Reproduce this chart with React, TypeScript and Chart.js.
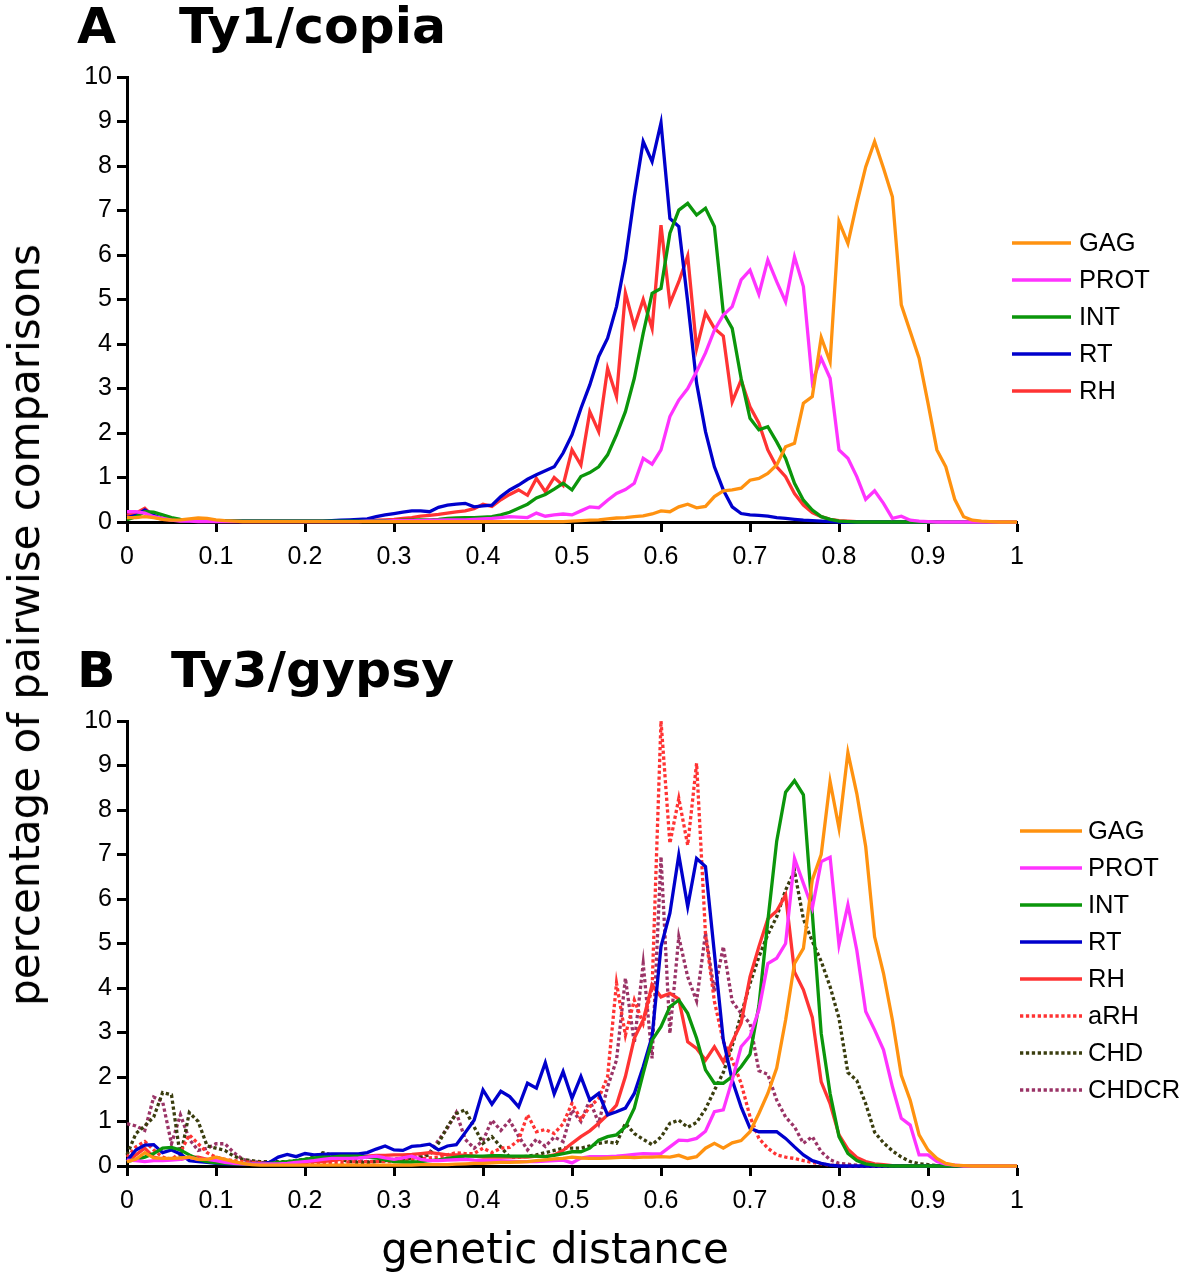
import React, { useEffect, useRef } from "react";
import { Chart, registerables } from "chart.js";

Chart.register(...registerables);

// genetic distance bins (x categories)
const DISTANCE = [
  0, 0.01, 0.02, 0.03, 0.04, 0.05, 0.06, 0.07, 0.08, 0.09,
  0.1, 0.11, 0.12, 0.13, 0.14, 0.15, 0.16, 0.17, 0.18, 0.19,
  0.2, 0.21, 0.22, 0.23, 0.24, 0.25, 0.26, 0.27, 0.28, 0.29,
  0.3, 0.31, 0.32, 0.33, 0.34, 0.35, 0.36, 0.37, 0.38, 0.39,
  0.4, 0.41, 0.42, 0.43, 0.44, 0.45, 0.46, 0.47, 0.48, 0.49,
  0.5, 0.51, 0.52, 0.53, 0.54, 0.55, 0.56, 0.57, 0.58, 0.59,
  0.6, 0.61, 0.62, 0.63, 0.64, 0.65, 0.66, 0.67, 0.68, 0.69,
  0.7, 0.71, 0.72, 0.73, 0.74, 0.75, 0.76, 0.77, 0.78, 0.79,
  0.8, 0.81, 0.82, 0.83, 0.84, 0.85, 0.86, 0.87, 0.88, 0.89,
  0.9, 0.91, 0.92, 0.93, 0.94, 0.95, 0.96, 0.97, 0.98, 0.99,
  1,
];

const X_TICKS = [0, 0.1, 0.2, 0.3, 0.4, 0.5, 0.6, 0.7, 0.8, 0.9, 1];
const X_TICK_LABELS = ["0", "0.1", "0.2", "0.3", "0.4", "0.5", "0.6", "0.7", "0.8", "0.9", "1"];
const Y_TICKS = [0, 1, 2, 3, 4, 5, 6, 7, 8, 9, 10];

// ---------- Panel A: Ty1/copia ----------
const A_GAG = [
  0.10, 0.10, 0.12, 0.10, 0.06, 0.04, 0.05, 0.07, 0.09, 0.08,
  0.05, 0.03, 0.02, 0.01, 0.01, 0.01, 0.01, 0.01, 0.01, 0.01,
  0.01, 0.01, 0.01, 0.01, 0.01, 0.01, 0.01, 0.01, 0.01, 0.01,
  0.01, 0.01, 0.01, 0.01, 0.01, 0.01, 0.01, 0.01, 0.01, 0.01,
  0.01, 0.01, 0.01, 0.01, 0.01, 0.01, 0.01, 0.01, 0.01, 0.01,
  0.02, 0.03, 0.04, 0.05, 0.07, 0.09, 0.10, 0.12, 0.14, 0.18,
  0.25, 0.23, 0.34, 0.40, 0.32, 0.35, 0.57, 0.70, 0.72, 0.76,
  0.94, 0.98, 1.09, 1.28, 1.69, 1.77, 2.67, 2.82, 4.15, 3.60,
  6.75, 6.26, 7.16, 7.98, 8.55, 7.95, 7.31, 4.88, 4.28, 3.68,
  2.67, 1.62, 1.24, 0.51, 0.12, 0.04, 0.02, 0.01, 0, 0,
  0,
];
const A_PROT = [
  0.23, 0.23, 0.20, 0.12, 0.08, 0.04, 0.02, 0.02, 0.01, 0.01,
  0.01, 0.01, 0.01, 0.01, 0.01, 0.01, 0.01, 0.01, 0.01, 0.01,
  0.01, 0.01, 0.01, 0.01, 0.01, 0.01, 0.01, 0.02, 0.02, 0.02,
  0.03, 0.03, 0.03, 0.03, 0.04, 0.04, 0.05, 0.05, 0.05, 0.06,
  0.07, 0.08, 0.10, 0.12, 0.11, 0.10, 0.20, 0.13, 0.16, 0.18,
  0.16, 0.25, 0.34, 0.32, 0.49, 0.64, 0.73, 0.87, 1.43, 1.30,
  1.62, 2.37, 2.74, 3.00, 3.38, 3.80, 4.31, 4.65, 4.84, 5.44,
  5.66, 5.12, 5.89, 5.40, 4.95, 5.96, 5.29, 3.15, 3.68, 3.23,
  1.62, 1.43, 1.02, 0.51, 0.70, 0.42, 0.08, 0.13, 0.04, 0.02,
  0.01, 0, 0, 0, 0, 0, 0, 0, 0, 0,
  0,
];
const A_INT = [
  0.05, 0.12, 0.23, 0.22, 0.16, 0.10, 0.06, 0.04, 0.03, 0.02,
  0.02, 0.02, 0.02, 0.02, 0.02, 0.02, 0.02, 0.02, 0.02, 0.02,
  0.02, 0.02, 0.02, 0.02, 0.02, 0.02, 0.02, 0.02, 0.03, 0.03,
  0.03, 0.04, 0.04, 0.05, 0.05, 0.06, 0.08, 0.09, 0.10, 0.10,
  0.11, 0.12, 0.16, 0.22, 0.31, 0.40, 0.54, 0.62, 0.74, 0.87,
  0.72, 1.02, 1.11, 1.24, 1.51, 1.96, 2.48, 3.23, 4.24, 5.14,
  5.25, 6.49, 7.01, 7.16, 6.90, 7.05, 6.64, 4.70, 4.35, 3.23,
  2.33, 2.07, 2.14, 1.80, 1.43, 0.87, 0.49, 0.27, 0.12, 0.06,
  0.02, 0.01, 0, 0, 0, 0, 0, 0, 0, 0,
  0, 0, 0, 0, 0, 0, 0, 0, 0, 0,
  0,
];
const A_RT = [
  0.10, 0.15, 0.27, 0.15, 0.08, 0.05, 0.03, 0.02, 0.02, 0.02,
  0.02, 0.02, 0.02, 0.02, 0.02, 0.02, 0.02, 0.02, 0.02, 0.02,
  0.02, 0.02, 0.02, 0.03, 0.04, 0.05, 0.06, 0.07, 0.12, 0.16,
  0.19, 0.22, 0.25, 0.25, 0.23, 0.33, 0.38, 0.40, 0.42, 0.34,
  0.36, 0.38, 0.57, 0.72, 0.83, 0.96, 1.06, 1.15, 1.24, 1.55,
  1.96, 2.55, 3.08, 3.72, 4.13, 4.84, 5.89, 7.31, 8.55, 8.10,
  8.97, 6.82, 6.64, 4.95, 3.12, 2.03, 1.24, 0.72, 0.34, 0.19,
  0.16, 0.15, 0.13, 0.10, 0.08, 0.06, 0.04, 0.03, 0.02, 0.01,
  0, 0, 0, 0, 0, 0, 0, 0, 0, 0,
  0, 0, 0, 0, 0, 0, 0, 0, 0, 0,
  0,
];
const A_RH = [
  0.15, 0.20, 0.31, 0.12, 0.06, 0.04, 0.03, 0.03, 0.02, 0.02,
  0.02, 0.02, 0.02, 0.02, 0.02, 0.02, 0.02, 0.02, 0.02, 0.02,
  0.02, 0.02, 0.02, 0.02, 0.02, 0.02, 0.03, 0.03, 0.04, 0.05,
  0.06, 0.08, 0.10, 0.13, 0.15, 0.17, 0.20, 0.23, 0.25, 0.30,
  0.40, 0.35, 0.50, 0.62, 0.72, 0.60, 0.98, 0.68, 1.00, 0.82,
  1.62, 1.28, 2.48, 2.03, 3.45, 2.82, 5.15, 4.39, 5.00, 4.35,
  6.67, 4.91, 5.40, 5.98, 3.90, 4.70, 4.35, 4.18, 2.70, 3.19,
  2.59, 2.22, 1.62, 1.24, 1.02, 0.64, 0.38, 0.21, 0.12, 0.06,
  0.03, 0.02, 0.01, 0, 0, 0, 0, 0, 0, 0,
  0, 0, 0, 0, 0, 0, 0, 0, 0, 0,
  0,
];

// ---------- Panel B: Ty3/gypsy ----------
const B_GAG = [
  0.10, 0.15, 0.30, 0.18, 0.17, 0.17, 0.18, 0.20, 0.15, 0.15,
  0.20, 0.15, 0.10, 0.06, 0.03, 0.02, 0.02, 0.02, 0.02, 0.02,
  0.02, 0.02, 0.02, 0.02, 0.02, 0.02, 0.02, 0.02, 0.02, 0.02,
  0.02, 0.02, 0.02, 0.03, 0.03, 0.03, 0.03, 0.04, 0.05, 0.06,
  0.06, 0.07, 0.08, 0.08, 0.09, 0.10, 0.12, 0.14, 0.16, 0.17,
  0.20, 0.18, 0.17, 0.17, 0.18, 0.19, 0.20, 0.19, 0.20, 0.20,
  0.21, 0.20, 0.24, 0.17, 0.21, 0.40, 0.51, 0.40, 0.52, 0.57,
  0.77, 1.18, 1.63, 2.20, 3.28, 4.55, 4.89, 6.43, 7.00, 8.64,
  7.59, 9.29, 8.37, 7.18, 5.15, 4.33, 3.28, 2.04, 1.48, 0.70,
  0.36, 0.17, 0.06, 0.02, 0.01, 0, 0, 0, 0, 0,
  0,
];
const B_PROT = [
  0.13, 0.12, 0.10, 0.12, 0.12, 0.13, 0.15, 0.20, 0.15, 0.15,
  0.12, 0.08, 0.06, 0.05, 0.05, 0.05, 0.05, 0.05, 0.06, 0.08,
  0.10, 0.12, 0.15, 0.17, 0.17, 0.17, 0.18, 0.20, 0.22, 0.18,
  0.15, 0.18, 0.22, 0.15, 0.12, 0.12, 0.13, 0.14, 0.15, 0.13,
  0.12, 0.12, 0.12, 0.11, 0.10, 0.10, 0.10, 0.11, 0.12, 0.13,
  0.07, 0.18, 0.21, 0.21, 0.21, 0.22, 0.24, 0.26, 0.28, 0.27,
  0.28, 0.43, 0.58, 0.57, 0.62, 0.78, 1.22, 1.26, 1.93, 2.68,
  2.91, 3.51, 4.55, 4.67, 5.00, 6.91, 6.35, 5.79, 6.84, 6.94,
  4.97, 5.87, 4.85, 3.47, 3.06, 2.61, 1.78, 1.07, 0.92, 0.25,
  0.25, 0.10, 0.04, 0.02, 0, 0, 0, 0, 0, 0,
  0,
];
const B_INT = [
  0.10, 0.15, 0.20, 0.28, 0.40, 0.42, 0.36, 0.25, 0.15, 0.10,
  0.07, 0.06, 0.05, 0.05, 0.05, 0.05, 0.06, 0.08, 0.10, 0.12,
  0.15, 0.18, 0.20, 0.20, 0.22, 0.22, 0.22, 0.20, 0.18, 0.14,
  0.10, 0.09, 0.09, 0.10, 0.12, 0.14, 0.17, 0.20, 0.22, 0.22,
  0.22, 0.23, 0.23, 0.22, 0.22, 0.22, 0.22, 0.21, 0.24, 0.28,
  0.32, 0.32, 0.40, 0.58, 0.66, 0.70, 0.88, 1.30, 2.08, 2.83,
  3.13, 3.58, 3.73, 3.43, 2.87, 2.16, 1.86, 1.86, 2.01, 2.23,
  2.51, 3.60, 5.50, 7.30, 8.40, 8.66, 8.34, 5.68, 2.98, 1.63,
  0.66, 0.28, 0.12, 0.05, 0.02, 0.01, 0, 0, 0, 0,
  0, 0, 0, 0, 0, 0, 0, 0, 0, 0,
  0,
];
const B_RT = [
  0.12, 0.36, 0.47, 0.48, 0.30, 0.36, 0.27, 0.12, 0.10, 0.08,
  0.06, 0.05, 0.05, 0.05, 0.05, 0.05, 0.08, 0.20, 0.26, 0.21,
  0.28, 0.25, 0.26, 0.27, 0.27, 0.27, 0.27, 0.30, 0.38, 0.45,
  0.36, 0.35, 0.44, 0.46, 0.49, 0.36, 0.45, 0.48, 0.75, 1.03,
  1.71, 1.39, 1.68, 1.56, 1.33, 1.86, 1.75, 2.32, 1.62, 2.12,
  1.52, 2.01, 1.48, 1.63, 1.15, 1.22, 1.30, 1.63, 2.23, 2.91,
  4.93, 5.68, 6.99, 5.83, 6.91, 6.73, 4.78, 2.83, 1.93, 1.33,
  0.85, 0.77, 0.77, 0.77, 0.62, 0.43, 0.25, 0.12, 0.06, 0.02,
  0, 0, 0, 0, 0, 0, 0, 0, 0, 0,
  0, 0, 0, 0, 0, 0, 0, 0, 0, 0,
  0,
];
const B_RH = [
  0.10, 0.25, 0.40, 0.20, 0.15, 0.15, 0.15, 0.20, 0.20, 0.15,
  0.10, 0.08, 0.06, 0.05, 0.05, 0.05, 0.05, 0.05, 0.06, 0.07,
  0.08, 0.10, 0.10, 0.12, 0.15, 0.18, 0.20, 0.22, 0.24, 0.24,
  0.25, 0.25, 0.26, 0.28, 0.30, 0.28, 0.25, 0.25, 0.24, 0.22,
  0.20, 0.20, 0.20, 0.20, 0.20, 0.20, 0.22, 0.21, 0.25, 0.35,
  0.51, 0.66, 0.79, 0.96, 1.15, 1.37, 2.01, 2.87, 3.28, 4.07,
  3.80, 3.88, 3.75, 2.79, 2.64, 2.38, 2.68, 2.34, 2.79, 3.21,
  4.25, 4.93, 5.55, 5.73, 6.09, 4.36, 3.96, 3.34, 1.89, 1.40,
  0.70, 0.38, 0.19, 0.10, 0.05, 0.03, 0.01, 0, 0, 0,
  0, 0, 0, 0, 0, 0, 0, 0, 0, 0,
  0,
];
const B_ARH = [
  0.20, 0.43, 0.55, 0.36, 0.20, 0.15, 0.30, 0.70, 0.50, 0.30,
  0.20, 0.15, 0.12, 0.10, 0.08, 0.07, 0.07, 0.07, 0.08, 0.08,
  0.08, 0.08, 0.08, 0.08, 0.08, 0.09, 0.10, 0.10, 0.10, 0.10,
  0.10, 0.12, 0.14, 0.16, 0.18, 0.20, 0.25, 0.30, 0.28, 0.28,
  0.40, 0.30, 0.40, 0.42, 0.58, 1.15, 0.77, 0.82, 0.73, 0.95,
  1.41, 1.05, 1.33, 1.52, 2.01, 4.11, 2.94, 3.73, 3.20, 4.00,
  10.0, 7.25, 8.26, 7.21, 9.05, 5.20, 3.70, 2.80, 2.38, 1.86,
  1.11, 0.62, 0.40, 0.25, 0.20, 0.17, 0.12, 0.08, 0.05, 0.02,
  0.01, 0, 0, 0, 0, 0, 0, 0, 0, 0,
  0, 0, 0, 0, 0, 0, 0, 0, 0, 0,
  0,
];
const B_CHD = [
  0.25, 0.73, 0.90, 1.10, 1.65, 1.60, 0.20, 1.20, 1.00, 0.45,
  0.40, 0.35, 0.22, 0.15, 0.12, 0.10, 0.10, 0.10, 0.10, 0.12,
  0.15, 0.20, 0.30, 0.25, 0.15, 0.10, 0.08, 0.08, 0.10, 0.12,
  0.15, 0.15, 0.18, 0.20, 0.25, 0.51, 0.88, 1.18, 1.26, 0.88,
  0.51, 0.66, 0.43, 0.20, 0.20, 0.22, 0.25, 0.30, 0.35, 0.40,
  0.40, 0.40, 0.45, 0.51, 0.54, 0.51, 0.96, 0.73, 0.60, 0.48,
  0.65, 0.96, 1.03, 0.87, 0.98, 1.28, 1.70, 2.10, 2.70, 3.40,
  4.10, 4.70, 5.20, 5.60, 6.20, 6.63, 5.55, 5.05, 4.60, 4.03,
  3.32, 2.10, 1.92, 1.40, 0.76, 0.52, 0.34, 0.20, 0.10, 0.05,
  0.03, 0.01, 0, 0, 0, 0, 0, 0, 0, 0,
  0,
];
const B_CHDCR = [
  0.95, 0.90, 0.80, 1.55, 1.45, 0.50, 1.15, 0.60, 0.35, 0.40,
  0.50, 0.50, 0.30, 0.15, 0.10, 0.08, 0.06, 0.06, 0.06, 0.08,
  0.10, 0.15, 0.20, 0.25, 0.20, 0.15, 0.12, 0.10, 0.10, 0.12,
  0.15, 0.18, 0.20, 0.22, 0.30, 0.58, 0.85, 1.20, 0.60, 0.40,
  0.57, 1.03, 0.80, 1.02, 0.67, 0.36, 0.60, 0.44, 0.65, 0.55,
  1.26, 1.00, 1.48, 0.96, 1.78, 2.38, 4.22, 2.76, 4.55, 2.42,
  6.95, 2.98, 5.15, 4.25, 3.71, 5.23, 3.92, 4.93, 3.70, 3.43,
  3.20, 2.14, 2.06, 1.48, 1.10, 0.88, 0.51, 0.66, 0.32, 0.14,
  0.06, 0.04, 0.02, 0, 0, 0, 0, 0, 0, 0,
  0, 0, 0, 0, 0, 0, 0, 0, 0, 0,
  0,
];

const COLORS = {
  GAG: "#ff9210",
  PROT: "#ff33ff",
  INT: "#0b960b",
  RT: "#0000cc",
  RH: "#ff3333",
  aRH: "#ff3333",
  CHD: "#3a3d0e",
  CHDCR: "#9a3366",
};

type Series = { name: string; values: number[]; color: string; dotted: boolean };

const PANEL_A: Series[] = [
  { name: "GAG", values: A_GAG, color: COLORS.GAG, dotted: false },
  { name: "PROT", values: A_PROT, color: COLORS.PROT, dotted: false },
  { name: "INT", values: A_INT, color: COLORS.INT, dotted: false },
  { name: "RT", values: A_RT, color: COLORS.RT, dotted: false },
  { name: "RH", values: A_RH, color: COLORS.RH, dotted: false },
];

const PANEL_B: Series[] = [
  { name: "GAG", values: B_GAG, color: COLORS.GAG, dotted: false },
  { name: "PROT", values: B_PROT, color: COLORS.PROT, dotted: false },
  { name: "INT", values: B_INT, color: COLORS.INT, dotted: false },
  { name: "RT", values: B_RT, color: COLORS.RT, dotted: false },
  { name: "RH", values: B_RH, color: COLORS.RH, dotted: false },
  { name: "aRH", values: B_ARH, color: COLORS.aRH, dotted: true },
  { name: "CHD", values: B_CHD, color: COLORS.CHD, dotted: true },
  { name: "CHDCR", values: B_CHDCR, color: COLORS.CHDCR, dotted: true },
];

const LINE_WIDTH = 3.3;
const DOT_DASH = [3.3, 2.6];
const TICK_FONT = { family: '"Liberation Sans", Arial, sans-serif', size: 25 };

const legendPlugin = {
  id: "panelLegend",
  afterDraw(chart: any, _args: any, opts: any) {
    const ctx = chart.ctx;
    chart.data.datasets.forEach((ds: any, i: number) => {
      const y = opts.y0 + i * opts.step;
      ctx.save();
      ctx.strokeStyle = ds.borderColor;
      ctx.lineWidth = LINE_WIDTH;
      ctx.lineCap = "butt";
      ctx.setLineDash(ds.borderDash || []);
      ctx.beginPath();
      ctx.moveTo(opts.x1, y);
      ctx.lineTo(opts.x2, y);
      ctx.stroke();
      ctx.setLineDash([]);
      ctx.fillStyle = "#000";
      ctx.font = '25.5px "Liberation Sans", Arial, sans-serif';
      ctx.textBaseline = "middle";
      ctx.textAlign = "left";
      ctx.fillText(ds.label, opts.xText, y + 1);
      ctx.restore();
    });
  },
};

function makeConfig(series: Series[], padTop: number, padBottom: number, legend: any): any {
  return {
    type: "line",
    data: {
      datasets: series.map((s) => ({
        label: s.name,
        data: s.values.map((v, i) => ({ x: DISTANCE[i], y: v })),
        borderColor: s.color,
        backgroundColor: s.color,
        borderWidth: LINE_WIDTH,
        borderDash: s.dotted ? DOT_DASH : [],
        borderCapStyle: "butt",
        pointRadius: 0,
        tension: 0,
        fill: false,
        clip: false,
      })),
    },
    options: {
      animation: false,
      responsive: false,
      events: [],
      layout: { padding: { left: 60, right: 164, top: padTop, bottom: padBottom } },
      plugins: {
        legend: { display: false },
        tooltip: { enabled: false },
        panelLegend: legend,
      },
      scales: {
        x: {
          type: "linear",
          min: 0,
          max: 1,
          afterBuildTicks: (scale: any) => {
            scale.ticks = X_TICKS.map((v) => ({ value: v }));
          },
          afterFit: (scale: any) => {
            scale.height = 50;
          },
          ticks: {
            autoSkip: false,
            maxRotation: 0,
            color: "#000",
            font: TICK_FONT,
            padding: 10,
            callback: (_v: any, idx: number) => X_TICK_LABELS[idx],
          },
          grid: {
            drawOnChartArea: false,
            drawTicks: true,
            tickLength: 10,
            tickWidth: 3,
            tickColor: "#000",
            color: "#000",
          },
          border: { display: true, color: "#000", width: 3 },
        },
        y: {
          type: "linear",
          min: 0,
          max: 10,
          afterBuildTicks: (scale: any) => {
            scale.ticks = Y_TICKS.map((v) => ({ value: v }));
          },
          afterFit: (scale: any) => {
            scale.width = 67;
          },
          ticks: {
            autoSkip: false,
            color: "#000",
            font: TICK_FONT,
            padding: 5,
            callback: (v: any) => String(v),
          },
          grid: {
            drawOnChartArea: false,
            drawTicks: true,
            tickLength: 10,
            tickWidth: 3,
            tickColor: "#000",
            color: "#000",
          },
          border: { display: true, color: "#000", width: 3 },
        },
      },
    },
    plugins: [legendPlugin],
  };
}

const titleStyle: React.CSSProperties = {
  position: "absolute",
  fontFamily: '"DejaVu Sans", sans-serif',
  fontWeight: "bold",
  fontSize: 50.5,
  lineHeight: "50px",
  whiteSpace: "nowrap",
  color: "#000",
  margin: 0,
};

const axisTitleStyle: React.CSSProperties = {
  position: "absolute",
  fontFamily: '"DejaVu Sans", sans-serif',
  fontSize: 42,
  lineHeight: "42px",
  whiteSpace: "nowrap",
  color: "#000",
};

export default function App() {
  const refA = useRef<HTMLCanvasElement | null>(null);
  const refB = useRef<HTMLCanvasElement | null>(null);

  useEffect(() => {
    const chartA = new Chart(
      refA.current as HTMLCanvasElement,
      makeConfig(PANEL_A, 77, 28, { x1: 1012, x2: 1071, xText: 1079, y0: 243, step: 37 })
    );
    const chartB = new Chart(
      refB.current as HTMLCanvasElement,
      makeConfig(PANEL_B, 81, 24, { x1: 1020, x2: 1082, xText: 1088, y0: 191, step: 37 })
    );
    return () => {
      chartA.destroy();
      chartB.destroy();
    };
  }, []);

  return (
    <div
      style={{
        position: "absolute",
        left: 0,
        top: 0,
        width: 1181,
        height: 1274,
        background: "#fff",
        overflow: "hidden",
      }}
    >
      <canvas ref={refA} width={1181} height={600} style={{ position: "absolute", left: 0, top: 0, width: 1181, height: 600 }} />
      <canvas ref={refB} width={1181} height={600} style={{ position: "absolute", left: 0, top: 640, width: 1181, height: 600 }} />

      <div style={{ ...titleStyle, left: 77, top: 1 }}>A</div>
      <div style={{ ...titleStyle, left: 179, top: 1 }}>Ty1/copia</div>
      <div style={{ ...titleStyle, left: 77, top: 645 }}>B</div>
      <div style={{ ...titleStyle, left: 171, top: 645 }}>Ty3/gypsy</div>

      <div
        style={{
          ...axisTitleStyle,
          left: 25,
          top: 625,
          transform: "translate(-50%, -50%) rotate(-90deg)",
        }}
      >
        percentage of pairwise comparisons
      </div>
      <div
        style={{
          ...axisTitleStyle,
          left: 555,
          top: 1228,
          transform: "translateX(-50%)",
        }}
      >
        genetic distance
      </div>
    </div>
  );
}
